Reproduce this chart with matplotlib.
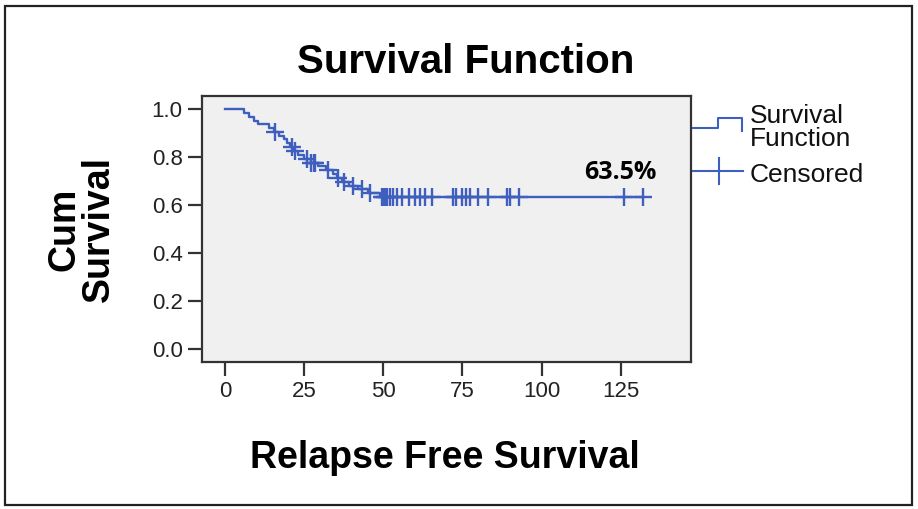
import matplotlib
matplotlib.use("Agg")
import matplotlib.pyplot as plt
import numpy as np
from matplotlib.lines import Line2D
from matplotlib.patches import Rectangle

# Kaplan-Meier steps (time, cumulative survival after the drop)
event_times = [0, 6, 7.5, 9, 10.5, 14, 15.5, 17, 18.5, 19.5, 20.5, 21.5, 23,
               25, 27, 29.5, 32, 34, 35.5, 37, 39, 42, 45, 49]
event_surv = [1.0, 0.984, 0.968, 0.952, 0.937, 0.921, 0.905, 0.889, 0.873,
              0.857, 0.841, 0.825, 0.809, 0.793, 0.777, 0.761, 0.745, 0.728,
              0.712, 0.696, 0.68, 0.665, 0.650, 0.635]
censored_times = [15.8, 21, 22, 26, 27, 28, 28.5, 32.5, 35.7, 37.5, 40.5, 43.2,
                  45.8, 49.5, 50, 50.5, 51, 52, 53, 54.3, 56, 58, 60, 61.6,
                  63.2, 65.4, 72, 73, 75, 76, 77.4, 80, 83, 89, 90, 93, 126, 132]
plateau_label = "63.5%"

x_ticks = [0, 25, 50, 75, 100, 125]
y_ticks = [0.0, 0.2, 0.4, 0.6, 0.8, 1.0]

BLUE = '#3F5FBF'
W, H = 918, 509

plt.rcParams['font.family'] = ['Liberation Sans', 'DejaVu Sans']


def fx(px):
    return px / W


def fy(py):
    return 1 - py / H


def main():
    fig = plt.figure(figsize=(W / 100, H / 100), dpi=100)
    ax = fig.add_axes([fx(202), fy(362), fx(691) - fx(202), fy(96) - fy(362)])
    plotCurve(ax)
    formatAxes(ax)
    addText(fig, ax)
    addLegend(fig)
    fig.patches.append(Rectangle((fx(5), fy(505)), fx(912) - fx(5), fy(6) - fy(505),
                                 transform=fig.transFigure, fill=False,
                                 edgecolor='#222222', lw=1.6))
    fig.savefig("out.png", dpi=100)


def plotCurve(ax):
    t = np.array(event_times + [max(censored_times)])
    s = np.array(event_surv + [event_surv[-1]])
    ax.step(t, s, where='post', color=BLUE, lw=1.7)
    idx = np.searchsorted(event_times, censored_times, side='right') - 1
    cy = np.array(event_surv)[idx]
    ax.plot(censored_times, cy, ls='none', marker='+', color=BLUE,
            markersize=13, markeredgewidth=1.7)


def formatAxes(ax):
    ax.set_facecolor('#F0F0F0')
    ax.set_xlim(-7.3, 147.2)
    ax.set_ylim(-0.053, 1.054)
    ax.set_xticks(x_ticks)
    ax.set_yticks(y_ticks)
    ax.set_yticklabels([f"{v:.1f}" for v in y_ticks])
    for sp in ax.spines.values():
        sp.set_color('#333333')
        sp.set_linewidth(1.6)
    ax.tick_params(direction='out', length=10, width=1.6, color='#333333',
                   labelsize=16, labelcolor='#222222', pad=4)


def addText(fig, ax):
    fig.text(fx(466), fy(62), "Survival Function", ha='center', va='center',
             fontsize=29, fontweight='bold')
    fig.text(fx(445), fy(458), "Relapse Free Survival", ha='center', va='center',
             fontsize=27, fontweight='bold')
    fig.text(fx(82), fy(229), "Cum\nSurvival", ha='center', va='center',
             rotation=90, fontsize=27, fontweight='bold', linespacing=0.95)
    ax.text(124.8, 0.734, plateau_label, ha='center', va='center',
            fontsize=18, fontweight='bold', family='Open Sans')


def addLegend(fig):
    step_x = [693, 718, 718, 742, 742]
    step_y = [128, 128, 118, 118, 131]
    fig.add_artist(Line2D([fx(v) for v in step_x], [fy(v) for v in step_y],
                          transform=fig.transFigure, color=BLUE, lw=1.5))
    fig.add_artist(Line2D([fx(693), fx(743)], [fy(171), fy(171)],
                          transform=fig.transFigure, color=BLUE, lw=1.5))
    fig.add_artist(Line2D([fx(719), fx(719)], [fy(158), fy(184)],
                          transform=fig.transFigure, color=BLUE, lw=1.5))
    for label, py in [("Survival", 116), ("Function", 139), ("Censored", 175)]:
        fig.text(fx(750), fy(py), label, ha='left', va='center', fontsize=19,
                 color='#111111')


if __name__ == '__main__':
    main()
